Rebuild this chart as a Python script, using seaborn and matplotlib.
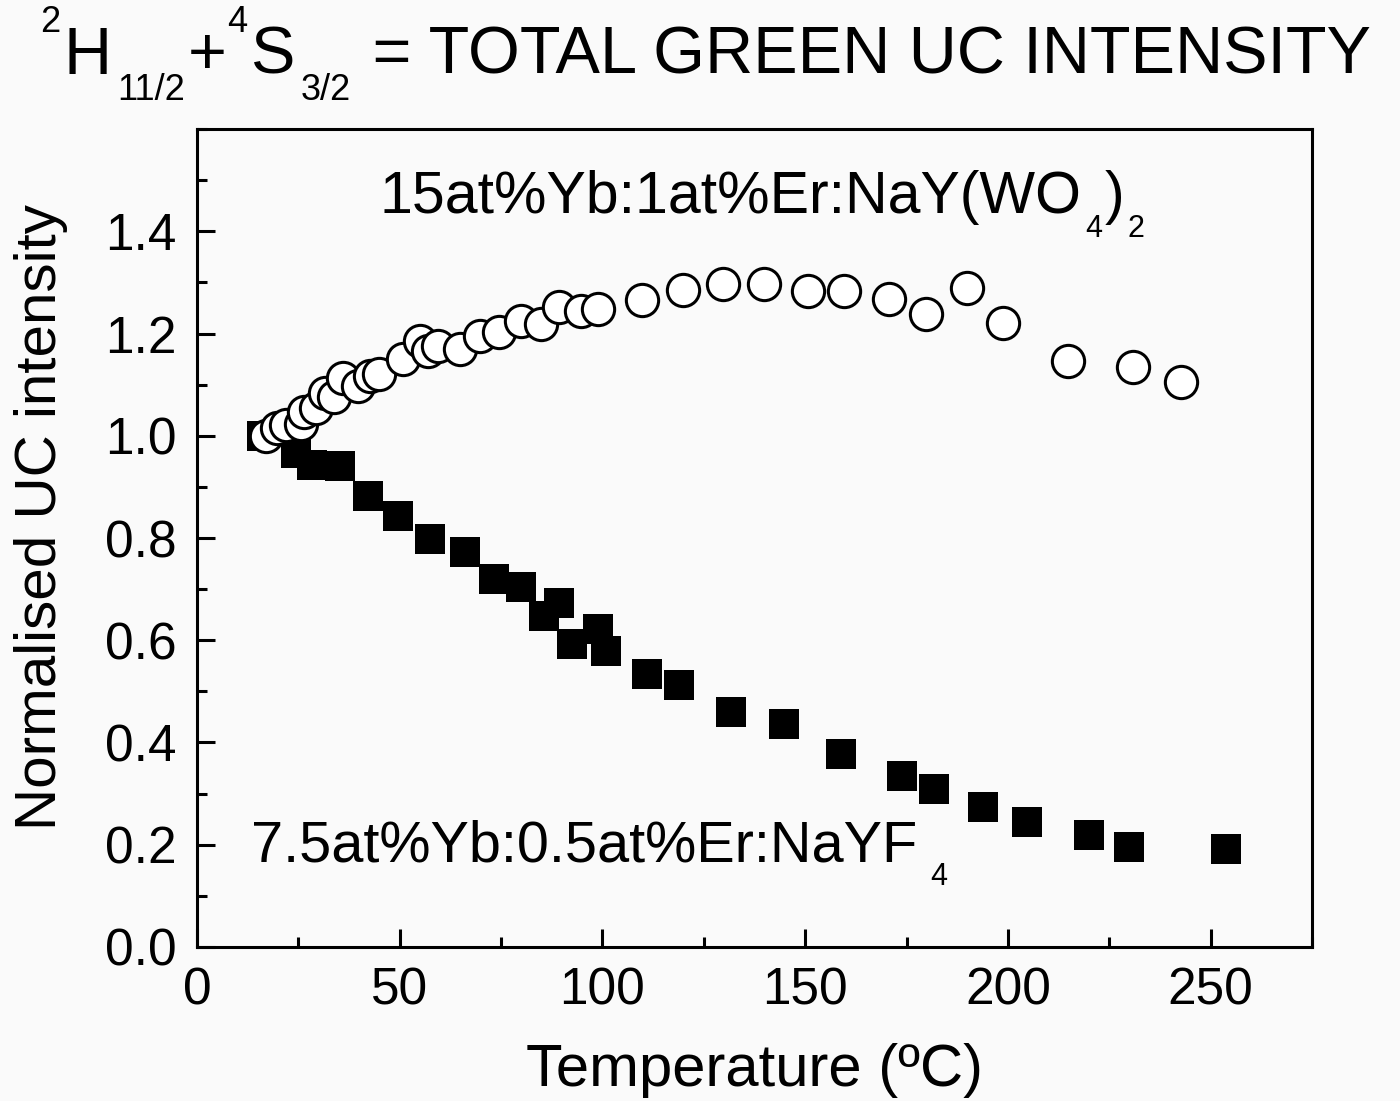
import pandas as pd
import numpy as np
import matplotlib
matplotlib.use('Agg')
import matplotlib.pyplot as plt
from matplotlib.ticker import MultipleLocator
import seaborn as sns

# 15at%Yb:1at%Er:NaY(WO4)2 - open circles
temp_wo = [17, 19.7, 22, 25.7, 26.5, 29.4, 31.5, 33.9, 36, 39.7, 42.6, 44.9, 50.8,
           54.9, 57, 59.4, 64.8, 69.7, 74.6, 80, 84.9, 89.4, 94.8, 98.9, 109.8,
           119.9, 129.8, 139.8, 150.7, 159.7, 170.8, 179.8, 189.8, 198.8, 214.9,
           230.9, 242.8]
int_wo = [1.000, 1.016, 1.021, 1.023, 1.046, 1.055, 1.083, 1.075, 1.113, 1.098,
          1.117, 1.120, 1.150, 1.186, 1.166, 1.176, 1.169, 1.195, 1.202, 1.225,
          1.218, 1.251, 1.244, 1.247, 1.265, 1.286, 1.296, 1.296, 1.283, 1.283,
          1.267, 1.238, 1.290, 1.220, 1.146, 1.135, 1.105]

# 7.5at%Yb:0.5at%Er:NaYF4 - filled squares
temp_f = [16, 24.3, 28.3, 35.3, 42.3, 49.7, 57.4, 66.0, 73.2, 79.8, 85.7, 89.3,
          92.5, 99.0, 100.8, 110.9, 118.8, 131.8, 144.8, 158.8, 173.9, 181.9,
          193.8, 204.8, 219.9, 229.8, 253.8]
int_f = [1.000, 0.966, 0.943, 0.940, 0.883, 0.844, 0.799, 0.773, 0.720, 0.705,
         0.647, 0.673, 0.593, 0.622, 0.578, 0.533, 0.512, 0.459, 0.437, 0.378,
         0.334, 0.309, 0.273, 0.244, 0.219, 0.195, 0.191]

# text pieces: (string, kind) with kind n = normal, sup, sub
title_parts = [('2', 'sup'), ('H', 'n'), ('11/2', 'sub'), ('+', 'n'), ('4', 'sup'),
               ('S', 'n'), ('3/2', 'sub'), (' = TOTAL GREEN UC INTENSITY', 'n')]
label_wo = [('15at%Yb:1at%Er:NaY(WO', 'n'), ('4', 'sub'), (')', 'n'), ('2', 'sub')]
label_f = [('7.5at%Yb:0.5at%Er:NaYF', 'n'), ('4', 'sub')]

df_wo = pd.DataFrame({'T': temp_wo, 'I': int_wo})
df_f = pd.DataFrame({'T': temp_f, 'I': int_f})

sns.set_style('ticks')
plt.rcParams['font.family'] = ['Liberation Sans', 'DejaVu Sans']
for k in ['text.color', 'axes.labelcolor', 'xtick.color', 'ytick.color', 'axes.edgecolor']:
    plt.rcParams[k] = 'black'

W, H = 1400, 1101
bg = '#fafafa'
fig = plt.figure(figsize=(W / 100, H / 100), dpi=100, facecolor=bg)
ax = fig.add_axes([0.1407, 0.1399, 0.9371 - 0.1407, 0.8828 - 0.1399])
ax.set_facecolor(bg)

sns.scatterplot(data=df_f, x='T', y='I', marker='s', s=460, color='black',
                linewidth=0, ax=ax, zorder=3)
sns.scatterplot(data=df_wo, x='T', y='I', marker='o', s=540, facecolor='white',
                edgecolor='black', linewidth=2.2, ax=ax, zorder=4)

ax.set_xlim(0, 275)
ax.set_ylim(0, 1.6)
ax.xaxis.set_major_locator(MultipleLocator(50))
ax.xaxis.set_minor_locator(MultipleLocator(25))
ax.yaxis.set_minor_locator(MultipleLocator(0.1))
ax.set_yticks(np.arange(0, 1.41, 0.2))
ax.set_yticklabels(['%.1f' % v for v in np.arange(0, 1.41, 0.2)])

ax.tick_params(which='both', direction='in', width=2.2, top=False, right=False)
ax.tick_params(which='major', length=13, labelsize=37)
ax.tick_params(axis='x', which='major', pad=14)
ax.tick_params(axis='y', which='major', pad=15)
ax.tick_params(which='minor', length=7)
for sp in ax.spines.values():
    sp.set_linewidth(2.2)
    sp.set_visible(True)

ax.set_xlabel('Temperature (ºC)', fontsize=43, labelpad=20)
ax.set_ylabel('Normalised UC intensity', fontsize=42)
ax.yaxis.set_label_coords(-0.116, 0.526)

renderer = fig.canvas.get_renderer()


def rich_text(x0, y0, parts, size, small, sub_drop, sup_rise, gap):
    # x0, y0 in pixels from top-left; y0 is the main baseline
    x = x0
    for s, kind in parts:
        if kind == 'sub':
            fs, y = small, y0 + sub_drop
            x += gap
        elif kind == 'sup':
            fs, y = small, y0 - sup_rise
        else:
            fs, y = size, y0
        t = fig.text(x / W, 1 - y / H, s, fontsize=fs, va='baseline', ha='left')
        x = t.get_window_extent(renderer).x1
        if kind != 'n':
            x += 3


rich_text(40, 74, title_parts, 48, 26, 26, 42, 6)
rich_text(380, 213, label_wo, 42.5, 22, 24, 0, 3)
rich_text(251, 862, label_f, 41.5, 22, 23, 0, 13)

fig.savefig('out.png', dpi=100, facecolor=bg)
